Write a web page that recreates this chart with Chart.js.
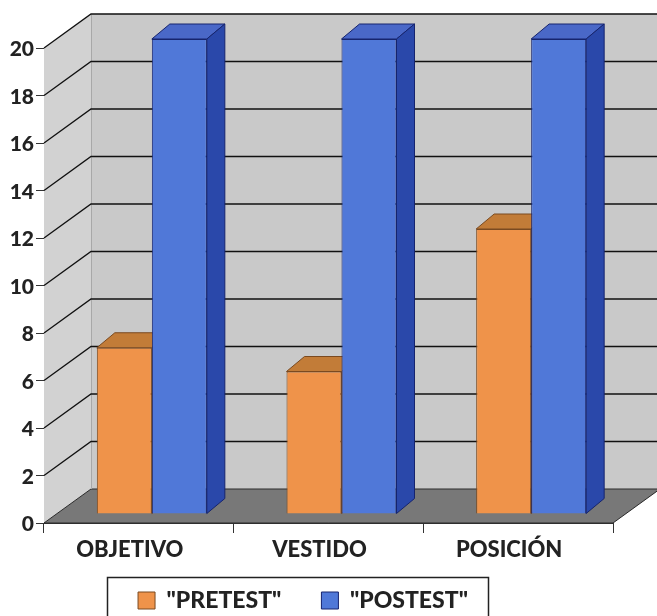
<!DOCTYPE html>
<html>
<head>
<meta charset="utf-8">
<style>html,body{margin:0;padding:0;background:#fff}canvas{display:block}</style>
<script src="https://cdn.jsdelivr.net/npm/chart.js@4"></script>
</head>
<body>
<canvas id="c" width="657" height="616"></canvas>
<script>
const categories = ['OBJETIVO', 'VESTIDO', 'POSICIÓN'];
const pretest = [7, 6, 12];
const postest = [20, 20, 20];
const yMax = 20;
const yStep = 2;

// Oblique projection used for the box, the floor and the bars
const WALL_DX = 47, WALL_DY = 34;
const BAR_DX = 13, BAR_DY = 9;
const DEPTH_DX = 18, DEPTH_DY = 15;

function poly(ctx, pts, fill, stroke, lw) {
  ctx.beginPath();
  pts.forEach((p, i) => i ? ctx.lineTo(p[0], p[1]) : ctx.moveTo(p[0], p[1]));
  ctx.closePath();
  if (fill) { ctx.fillStyle = fill; ctx.fill(); }
  if (stroke) { ctx.strokeStyle = stroke; ctx.lineWidth = lw || 1; ctx.stroke(); }
}

const box3d = {
  id: 'box3d',
  beforeLayout(chart) {
    // The legend frame is placed by hand, so its reserved height stays fixed
    const lg = chart.legend;
    if (lg && !lg._fitWrapped) {
      const fit = lg.fit;
      lg.fit = function () { fit.call(this); this.height = 52; };
      lg._fitWrapped = true;
    }
  },
  afterLayout(chart) {
    const lg = chart.legend;
    const shift = 303 - (lg.left + lg.right) / 2;
    lg.left += shift; lg.right += shift;
    lg.top = 549; lg.bottom = lg.top + 120;
  },
  beforeDatasetsDraw(chart) {
    const { ctx, chartArea: a, scales: { y } } = chart;
    const L = a.left, R = a.right, B = a.bottom, T = a.top;
    ctx.save();
    // left wall
    poly(ctx, [[L, B], [L, T], [L + WALL_DX, T - WALL_DY], [L + WALL_DX, B - WALL_DY]], '#d2d2d2');
    // back wall
    poly(ctx, [[L + WALL_DX, T - WALL_DY], [R + WALL_DX, T - WALL_DY], [R + WALL_DX, B - WALL_DY], [L + WALL_DX, B - WALL_DY]], '#c9c9c9');
    // floor
    poly(ctx, [[L, B], [R, B], [R + WALL_DX, B - WALL_DY], [L + WALL_DX, B - WALL_DY]], '#787878', '#2a2a2a', 1);
    // inner corner of the box
    ctx.strokeStyle = '#a8a8a8';
    ctx.lineWidth = 1;
    ctx.beginPath();
    ctx.moveTo(L + WALL_DX + 0.5, T - WALL_DY);
    ctx.lineTo(L + WALL_DX + 0.5, B - WALL_DY);
    ctx.stroke();
    // gridlines wrapping from the left wall onto the back wall
    ctx.strokeStyle = '#111';
    ctx.lineWidth = 1.3;
    y.ticks.forEach(t => {
      if (t.value === 0) return;
      const py = y.getPixelForValue(t.value);
      ctx.beginPath();
      ctx.moveTo(L, py);
      ctx.lineTo(L + WALL_DX, py - WALL_DY);
      ctx.lineTo(R + WALL_DX, py - WALL_DY);
      ctx.stroke();
    });
    // tops and right-hand sides of the bars, left series first so the
    // front faces drawn afterwards hide whatever should be out of sight
    ctx.translate(BAR_DX, -BAR_DY);
    chart.data.datasets.forEach((ds, i) => {
      chart.getDatasetMeta(i).data.forEach(bar => {
        const p = bar.getProps(['x', 'y', 'base', 'width'], true);
        const l = p.x - p.width / 2, r = p.x + p.width / 2;
        poly(ctx, [[l, p.y], [r, p.y], [r + DEPTH_DX, p.y - DEPTH_DY], [l + DEPTH_DX, p.y - DEPTH_DY]], ds.topColor, ds.borderColor, 1);
        poly(ctx, [[r, p.y], [r + DEPTH_DX, p.y - DEPTH_DY], [r + DEPTH_DX, p.base - DEPTH_DY], [r, p.base]], ds.sideColor, ds.borderColor, 1);
      });
    });
    ctx.restore();
  },
  beforeDatasetDraw(chart) {
    // Each bar stands a little way back from the front edge of the floor
    chart.ctx.save();
    chart.ctx.translate(BAR_DX, -BAR_DY);
  },
  afterDatasetDraw(chart) {
    chart.ctx.restore();
  },
  afterDraw(chart) {
    // Frame around the legend, running off the bottom of the page
    const ctx = chart.ctx;
    ctx.save();
    ctx.strokeStyle = '#222';
    ctx.lineWidth = 1.5;
    ctx.strokeRect(107.5, 577.5, 381, 60);
    ctx.restore();
  }
};

new Chart(document.getElementById('c'), {
  type: 'bar',
  data: {
    labels: categories,
    datasets: [
      { label: '"PRETEST"', data: pretest, backgroundColor: '#ef934a', borderColor: '#7a4a20', topColor: '#c27c38', sideColor: '#b86e2c', borderWidth: 1, clip: false },
      { label: '"POSTEST"', data: postest, backgroundColor: '#5078d8', borderColor: '#16246e', topColor: '#4a68c8', sideColor: '#2a48aa', borderWidth: 1, clip: false }
    ]
  },
  options: {
    responsive: false,
    animation: false,
    events: [],
    layout: { padding: { top: 48, right: 44, bottom: 0, left: 0 } },
    datasets: { bar: { categoryPercentage: 0.58, barPercentage: 1 } },
    plugins: {
      tooltip: { enabled: false },
      title: { display: false },
      legend: {
        position: 'bottom',
        labels: {
          boxWidth: 17, boxHeight: 17, padding: 40,
          color: '#222',
          font: { family: 'Lato', size: 23, weight: '900' }
        }
      }
    },
    scales: {
      x: {
        afterFit(s) { s.height = 41; },
        grid: { display: true, drawOnChartArea: false, drawTicks: true, tickLength: 10, color: '#333', lineWidth: 1 },
        border: { display: true, color: '#333' },
        ticks: { color: '#222', padding: 4, labelOffset: -9, maxRotation: 0, font: { family: 'Lato', size: 22, weight: '900' } }
      },
      y: {
        min: 0, max: yMax,
        afterFit(s) { s.width = 44; },
        grid: { display: true, drawOnChartArea: false, drawTicks: true, tickLength: 8, color: '#333', lineWidth: 1 },
        border: { display: true, color: '#333' },
        ticks: { stepSize: yStep, color: '#222', padding: 2, labelOffset: 1.5, font: { family: 'Lato', size: 21, weight: '900' } }
      }
    }
  },
  plugins: [box3d]
});
</script>
</body>
</html>
